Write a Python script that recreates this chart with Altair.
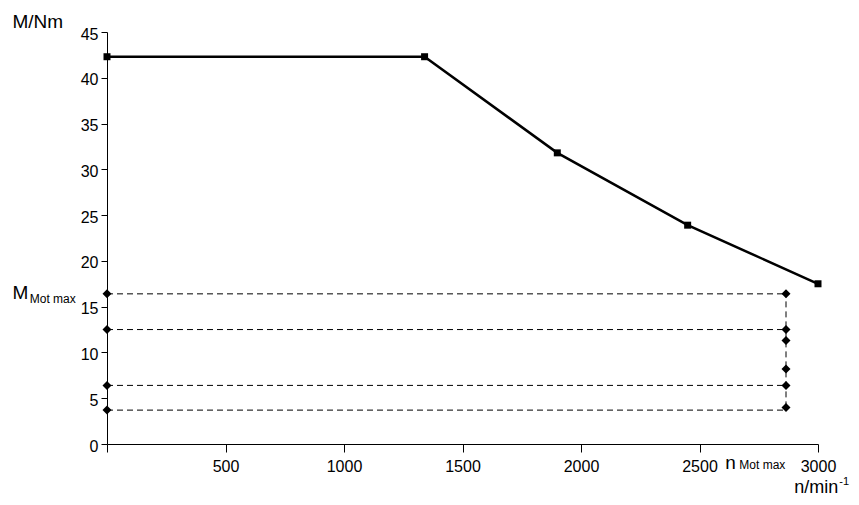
import altair as alt
import pandas as pd

# ---- data ----
speed = [0, 1340, 1900, 2450, 3000]          # n / min^-1
torque = [42.3, 42.3, 31.8, 23.9, 17.5]      # M / Nm
limit_levels = [16.4, 12.5, 6.4, 3.7]        # dashed horizontal levels (left diamonds)
n_mot_max = 2865
right_levels = [16.4, 12.5, 11.3, 8.2, 6.4, 4.0]  # diamonds on the n_Mot_max line
x_ticks = [0, 500, 1000, 1500, 2000, 2500, 3000]
y_ticks = [0, 5, 10, 15, 20, 25, 30, 35, 40, 45]

FONT = "Liberation Sans"

curve_df = pd.DataFrame({"n": speed, "M": torque})
left_df = pd.DataFrame({"n": [0] * len(limit_levels), "M": limit_levels})
hline_df = pd.DataFrame({"n": [0] * len(limit_levels), "n2": [n_mot_max] * len(limit_levels), "M": limit_levels})
vline_df = pd.DataFrame({"n": [n_mot_max], "M": [min(right_levels)], "M2": [max(right_levels)]})
right_df = pd.DataFrame({"n": [n_mot_max] * len(right_levels), "M": right_levels})

# annotation texts (placed in data coordinates)
big_text_df = pd.DataFrame({
    "n": [-399, 2609],
    "M": [15.85, -2.7],
    "label": ["M", "n"],
})
unit_df = pd.DataFrame({"n": [2900], "M": [-5.4], "label": ["n/min"]})
small_text_df = pd.DataFrame({
    "n": [-326, 2668],
    "M": [15.44, -2.7],
    "label": ["Mot max", "Mot max"],
})
sup_df = pd.DataFrame({"n": [3090], "M": [-4.5], "label": ["-1"]})

x_scale = alt.Scale(domain=[0, 3000], nice=False, zero=False)
y_scale = alt.Scale(domain=[0, 45], nice=False, zero=False)

x_axis = alt.Axis(
    values=x_ticks, format="d", labelExpr="datum.value == 0 ? '' : datum.label",
    tickSize=8, labelPadding=6, labelFontSize=16, labelFont=FONT,
    labelFlush=False, labelOverlap=False, grid=False, title=None,
    domainColor="black", tickColor="black", labelColor="black",
)
y_axis = alt.Axis(
    values=y_ticks, format="d", tickSize=6, labelPadding=3, labelFontSize=16, labelFont=FONT,
    labelFlush=False, labelOverlap=False, grid=False, labelOffset=2,
    title="M/Nm", titleAngle=0, titleAlign="left", titleBaseline="alphabetic",
    titleX=-95, titleY=-5, titleFontSize=19, titleFontWeight="normal", titleFont=FONT,
    titleColor="black", domainColor="black", tickColor="black", labelColor="black",
)


def X(field="n"):
    return alt.X(f"{field}:Q", scale=x_scale, axis=x_axis)


def Y(field="M"):
    return alt.Y(f"{field}:Q", scale=y_scale, axis=y_axis)


curve = alt.Chart(curve_df).mark_line(color="black", strokeWidth=2.5).encode(x=X(), y=Y())
curve_pts = alt.Chart(curve_df).mark_point(
    shape="square", filled=True, color="black", size=49, opacity=1
).encode(x=X(), y=Y())

hlines = alt.Chart(hline_df).mark_rule(color="black", strokeWidth=1, strokeDash=[6, 4]).encode(
    x=X(), x2="n2:Q", y=Y()
)
vline = alt.Chart(vline_df).mark_rule(color="black", strokeWidth=1, strokeDash=[6, 4]).encode(
    x=X(), y=Y(), y2="M2:Q"
)
left_pts = alt.Chart(left_df).mark_point(
    shape="diamond", filled=True, color="black", size=81, opacity=1
).encode(x=X(), y=Y())
right_pts = alt.Chart(right_df).mark_point(
    shape="diamond", filled=True, color="black", size=81, opacity=1
).encode(x=X(), y=Y())

big_text = alt.Chart(big_text_df).mark_text(
    align="left", baseline="alphabetic", fontSize=19, font=FONT, color="black"
).encode(x=X(), y=Y(), text="label:N")
unit_text = alt.Chart(unit_df).mark_text(
    align="left", baseline="alphabetic", fontSize=18, font=FONT, color="black"
).encode(x=X(), y=Y(), text="label:N")
small_text = alt.Chart(small_text_df).mark_text(
    align="left", baseline="alphabetic", fontSize=12, font=FONT, color="black"
).encode(x=X(), y=Y(), text="label:N")
sup_text = alt.Chart(sup_df).mark_text(
    align="left", baseline="alphabetic", fontSize=11, font=FONT, color="black"
).encode(x=X(), y=Y(), text="label:N")

chart = (
    alt.layer(hlines, vline, curve, curve_pts, left_pts, right_pts,
              big_text, unit_text, small_text, sup_text)
    .properties(
        width=711, height=412, autosize="none",
        padding={"left": 99, "top": 24, "right": 33, "bottom": 52},
        background="white",
    )
    .configure(font=FONT, view=alt.ViewConfig(stroke=None))
)

chart.save("out.html", embed_options={"renderer": "svg", "actions": False})
